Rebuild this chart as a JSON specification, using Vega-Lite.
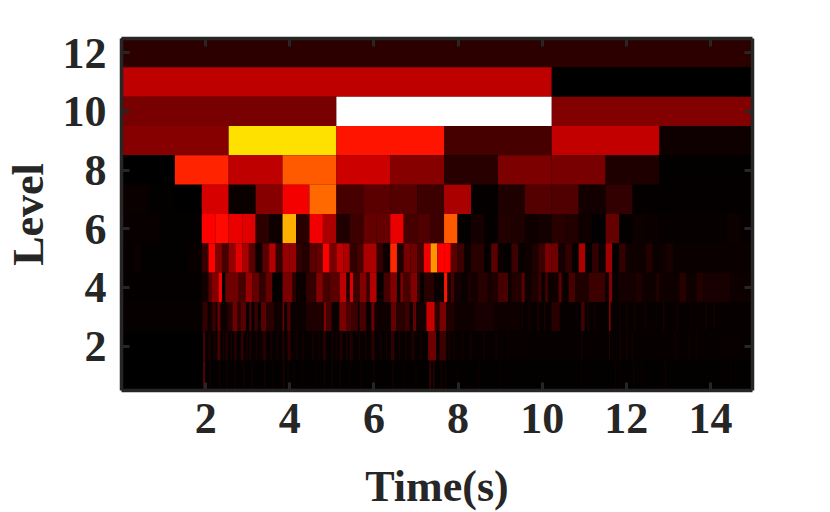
{"$schema":"https://vega.github.io/schema/vega-lite/v6.json","width":631,"height":352,"autosize":{"type":"none"},"padding":{"left":121,"top":38,"right":78,"bottom":122},"background":"white","config":{"view":{"fill":"#000000","stroke":null},"axis":{"grid":false,"labelFont":"Liberation Serif","labelFontWeight":"bold","labelFontSize":44,"labelColor":"#262626","titleFont":"Liberation Serif","titleFontWeight":"bold","titleFontSize":44,"titleColor":"#262626","tickColor":"#262626","tickWidth":3,"tickSize":-8,"domainColor":"#262626","domainWidth":3.5}},"data":{"values":[
{"level":12,"t0":0,"t1":15,"v":45},
{"level":11,"t0":0,"t1":10.24,"v":190},{"level":11,"t0":10.24,"t1":15,"v":0},
{"level":10,"t0":0,"t1":5.12,"v":120},{"level":10,"t0":5.12,"t1":10.24,"v":765},{"level":10,"t0":10.24,"t1":15,"v":130},
{"level":9,"t0":0,"t1":2.56,"v":135},{"level":9,"t0":2.56,"t1":5.12,"v":480},{"level":9,"t0":5.12,"t1":7.68,"v":275},{"level":9,"t0":7.68,"t1":10.24,"v":70},{"level":9,"t0":10.24,"t1":12.8,"v":195},{"level":9,"t0":12.8,"t1":15,"v":15},
{"level":8,"t0":0,"t1":1.28,"v":0},{"level":8,"t0":1.28,"t1":2.56,"v":290},{"level":8,"t0":2.56,"t1":3.84,"v":190},{"level":8,"t0":3.84,"t1":5.12,"v":345},{"level":8,"t0":5.12,"t1":6.4,"v":205},{"level":8,"t0":6.4,"t1":7.68,"v":135},{"level":8,"t0":7.68,"t1":8.96,"v":40},{"level":8,"t0":8.96,"t1":10.24,"v":125},{"level":8,"t0":10.24,"t1":11.52,"v":120},{"level":8,"t0":11.52,"t1":12.8,"v":30},{"level":8,"t0":12.8,"t1":15,"v":3},
{"level":7,"t0":0,"t1":0.64,"v":10},{"level":7,"t0":0.64,"t1":1.28,"v":3},{"level":7,"t0":1.28,"t1":1.92,"v":1},{"level":7,"t0":1.92,"t1":2.56,"v":215},{"level":7,"t0":2.56,"t1":3.2,"v":10},{"level":7,"t0":3.2,"t1":3.84,"v":135},{"level":7,"t0":3.84,"t1":4.48,"v":245},{"level":7,"t0":4.48,"t1":5.12,"v":360},{"level":7,"t0":5.12,"t1":5.76,"v":70},{"level":7,"t0":5.76,"t1":6.4,"v":90},{"level":7,"t0":6.4,"t1":7.04,"v":85},{"level":7,"t0":7.04,"t1":7.68,"v":60},{"level":7,"t0":7.68,"t1":8.32,"v":170},{"level":7,"t0":8.32,"t1":8.96,"v":5},{"level":7,"t0":8.96,"t1":9.6,"v":30},{"level":7,"t0":9.6,"t1":10.24,"v":85},{"level":7,"t0":10.24,"t1":10.88,"v":80},{"level":7,"t0":10.88,"t1":11.52,"v":18},{"level":7,"t0":11.52,"t1":12.16,"v":50},{"level":7,"t0":12.16,"t1":15,"v":4},
{"level":6,"t0":0,"t1":0.96,"v":8},{"level":6,"t0":0.96,"t1":1.92,"v":3},{"level":6,"t0":1.92,"t1":2.24,"v":255},{"level":6,"t0":2.24,"t1":2.56,"v":265},{"level":6,"t0":2.56,"t1":2.88,"v":235},{"level":6,"t0":2.88,"t1":3.2,"v":225},{"level":6,"t0":3.2,"t1":3.52,"v":45},{"level":6,"t0":3.52,"t1":3.84,"v":15},{"level":6,"t0":3.84,"t1":4.16,"v":430},{"level":6,"t0":4.16,"t1":4.48,"v":40},{"level":6,"t0":4.48,"t1":4.8,"v":240},{"level":6,"t0":4.8,"t1":5.12,"v":170},{"level":6,"t0":5.12,"t1":5.44,"v":30},{"level":6,"t0":5.44,"t1":5.76,"v":60},{"level":6,"t0":5.76,"t1":6.08,"v":100},{"level":6,"t0":6.08,"t1":6.4,"v":100},{"level":6,"t0":6.4,"t1":6.72,"v":235},{"level":6,"t0":6.72,"t1":7.04,"v":70},{"level":6,"t0":7.04,"t1":7.36,"v":80},{"level":6,"t0":7.36,"t1":7.68,"v":60},{"level":6,"t0":7.68,"t1":8.0,"v":345},{"level":6,"t0":8.0,"t1":8.32,"v":5},{"level":6,"t0":8.32,"t1":8.64,"v":20},{"level":6,"t0":8.64,"t1":8.96,"v":5},{"level":6,"t0":8.96,"t1":9.28,"v":35},{"level":6,"t0":9.28,"t1":9.6,"v":30},{"level":6,"t0":9.6,"t1":9.92,"v":15},{"level":6,"t0":9.92,"t1":10.24,"v":20},{"level":6,"t0":10.24,"t1":10.56,"v":40},{"level":6,"t0":10.56,"t1":10.88,"v":35},{"level":6,"t0":10.88,"t1":11.2,"v":15},{"level":6,"t0":11.2,"t1":11.52,"v":2},{"level":6,"t0":11.52,"t1":11.84,"v":100},{"level":6,"t0":11.84,"t1":12.16,"v":5},{"level":6,"t0":12.16,"t1":12.48,"v":12},{"level":6,"t0":12.48,"t1":12.8,"v":10},{"level":6,"t0":12.8,"t1":14.4,"v":6},{"level":6,"t0":14.4,"t1":14.72,"v":12},{"level":6,"t0":14.72,"t1":15,"v":6},
{"level":5,"t0":0,"t1":0.32,"v":6},{"level":5,"t0":0.32,"t1":0.48,"v":12},{"level":5,"t0":0.48,"t1":1.6,"v":3},{"level":5,"t0":1.6,"t1":1.92,"v":8},
{"level":5,"t0":1.92,"t1":2.08,"v":55},{"level":5,"t0":2.08,"t1":2.24,"v":255},{"level":5,"t0":2.24,"t1":2.4,"v":130},{"level":5,"t0":2.4,"t1":2.56,"v":70},{"level":5,"t0":2.56,"t1":2.72,"v":150},{"level":5,"t0":2.72,"t1":2.88,"v":225},{"level":5,"t0":2.88,"t1":3.04,"v":170},{"level":5,"t0":3.04,"t1":3.2,"v":90},{"level":5,"t0":3.2,"t1":3.36,"v":15},{"level":5,"t0":3.36,"t1":3.52,"v":90},{"level":5,"t0":3.52,"t1":3.68,"v":180},{"level":5,"t0":3.68,"t1":3.84,"v":50},{"level":5,"t0":3.84,"t1":4.0,"v":150},{"level":5,"t0":4.0,"t1":4.16,"v":150},{"level":5,"t0":4.16,"t1":4.32,"v":50},{"level":5,"t0":4.32,"t1":4.48,"v":35},{"level":5,"t0":4.48,"t1":4.64,"v":90},{"level":5,"t0":4.64,"t1":4.8,"v":100},{"level":5,"t0":4.8,"t1":4.96,"v":255},{"level":5,"t0":4.96,"t1":5.12,"v":120},{"level":5,"t0":5.12,"t1":5.28,"v":190},{"level":5,"t0":5.28,"t1":5.44,"v":170},{"level":5,"t0":5.44,"t1":5.6,"v":50},{"level":5,"t0":5.6,"t1":5.76,"v":70},{"level":5,"t0":5.76,"t1":5.92,"v":170},{"level":5,"t0":5.92,"t1":6.08,"v":170},{"level":5,"t0":6.08,"t1":6.24,"v":50},{"level":5,"t0":6.24,"t1":6.4,"v":15},{"level":5,"t0":6.4,"t1":6.56,"v":295},{"level":5,"t0":6.56,"t1":6.72,"v":30},{"level":5,"t0":6.72,"t1":6.88,"v":120},{"level":5,"t0":6.88,"t1":7.04,"v":110},{"level":5,"t0":7.04,"t1":7.2,"v":70},{"level":5,"t0":7.2,"t1":7.36,"v":240},{"level":5,"t0":7.36,"t1":7.52,"v":405},{"level":5,"t0":7.52,"t1":7.68,"v":255},{"level":5,"t0":7.68,"t1":7.84,"v":255},{"level":5,"t0":7.84,"t1":8.0,"v":90},{"level":5,"t0":8.0,"t1":8.16,"v":60},{"level":5,"t0":8.16,"t1":8.32,"v":15},{"level":5,"t0":8.32,"t1":8.64,"v":40},{"level":5,"t0":8.64,"t1":8.8,"v":5},{"level":5,"t0":8.8,"t1":8.96,"v":90},{"level":5,"t0":8.96,"t1":9.12,"v":10},{"level":5,"t0":9.12,"t1":9.28,"v":5},{"level":5,"t0":9.28,"t1":9.44,"v":60},{"level":5,"t0":9.44,"t1":9.6,"v":10},{"level":5,"t0":9.6,"t1":9.76,"v":15},{"level":5,"t0":9.76,"t1":9.92,"v":30},{"level":5,"t0":9.92,"t1":10.08,"v":60},{"level":5,"t0":10.08,"t1":10.24,"v":120},{"level":5,"t0":10.24,"t1":10.4,"v":110},{"level":5,"t0":10.4,"t1":10.56,"v":20},{"level":5,"t0":10.56,"t1":10.72,"v":50},{"level":5,"t0":10.72,"t1":10.88,"v":5},{"level":5,"t0":10.88,"t1":11.04,"v":170},{"level":5,"t0":11.04,"t1":11.2,"v":5},{"level":5,"t0":11.2,"t1":11.36,"v":50},{"level":5,"t0":11.36,"t1":11.52,"v":10},{"level":5,"t0":11.52,"t1":11.68,"v":160},{"level":5,"t0":11.68,"t1":11.84,"v":5},{"level":5,"t0":11.84,"t1":12.0,"v":50},{"level":5,"t0":12.0,"t1":12.48,"v":15},{"level":5,"t0":12.48,"t1":12.64,"v":35},{"level":5,"t0":12.64,"t1":12.8,"v":10},{"level":5,"t0":12.8,"t1":12.96,"v":15},{"level":5,"t0":12.96,"t1":13.12,"v":25},{"level":5,"t0":13.12,"t1":15,"v":10},
{"level":4,"t0":0,"t1":1.92,"v":5},{"level":4,"t0":1.92,"t1":2.08,"v":20},{"level":4,"t0":2.08,"t1":2.16,"v":90},{"level":4,"t0":2.16,"t1":2.32,"v":130},{"level":4,"t0":2.32,"t1":2.4,"v":255},{"level":4,"t0":2.4,"t1":2.48,"v":5},{"level":4,"t0":2.48,"t1":2.8,"v":110},{"level":4,"t0":2.8,"t1":2.96,"v":70},{"level":4,"t0":2.96,"t1":3.12,"v":150},{"level":4,"t0":3.12,"t1":3.28,"v":100},{"level":4,"t0":3.28,"t1":3.44,"v":50},{"level":4,"t0":3.44,"t1":3.6,"v":100},{"level":4,"t0":3.6,"t1":3.84,"v":5},{"level":4,"t0":3.84,"t1":4.08,"v":120},{"level":4,"t0":4.08,"t1":4.16,"v":40},{"level":4,"t0":4.16,"t1":4.4,"v":10},{"level":4,"t0":4.4,"t1":4.64,"v":50},{"level":4,"t0":4.64,"t1":4.8,"v":130},{"level":4,"t0":4.8,"t1":4.96,"v":70},{"level":4,"t0":4.96,"t1":5.2,"v":90},{"level":4,"t0":5.2,"t1":5.36,"v":190},{"level":4,"t0":5.36,"t1":5.44,"v":30},{"level":4,"t0":5.44,"t1":5.52,"v":220},{"level":4,"t0":5.52,"t1":5.68,"v":60},{"level":4,"t0":5.68,"t1":5.84,"v":130},{"level":4,"t0":5.84,"t1":5.92,"v":60},{"level":4,"t0":5.92,"t1":6.08,"v":180},{"level":4,"t0":6.08,"t1":6.24,"v":5},{"level":4,"t0":6.24,"t1":6.4,"v":70},{"level":4,"t0":6.4,"t1":6.56,"v":130},{"level":4,"t0":6.56,"t1":6.64,"v":10},{"level":4,"t0":6.64,"t1":6.72,"v":120},{"level":4,"t0":6.72,"t1":6.88,"v":70},{"level":4,"t0":6.88,"t1":7.04,"v":130},{"level":4,"t0":7.04,"t1":7.12,"v":50},{"level":4,"t0":7.12,"t1":7.2,"v":5},{"level":4,"t0":7.2,"t1":7.44,"v":40},{"level":4,"t0":7.44,"t1":7.68,"v":10},{"level":4,"t0":7.68,"t1":7.76,"v":275},{"level":4,"t0":7.76,"t1":7.84,"v":20},{"level":4,"t0":7.84,"t1":7.92,"v":70},{"level":4,"t0":7.92,"t1":8.08,"v":20},{"level":4,"t0":8.08,"t1":8.24,"v":10},{"level":4,"t0":8.24,"t1":8.32,"v":30},{"level":4,"t0":8.32,"t1":8.48,"v":20},{"level":4,"t0":8.48,"t1":8.72,"v":40},{"level":4,"t0":8.72,"t1":8.8,"v":20},{"level":4,"t0":8.8,"t1":8.96,"v":30},{"level":4,"t0":8.96,"t1":9.2,"v":70},{"level":4,"t0":9.2,"t1":9.28,"v":15},{"level":4,"t0":9.28,"t1":9.52,"v":35},{"level":4,"t0":9.52,"t1":9.6,"v":90},{"level":4,"t0":9.6,"t1":9.76,"v":15},{"level":4,"t0":9.76,"t1":9.92,"v":30},{"level":4,"t0":9.92,"t1":10.0,"v":60},{"level":4,"t0":10.0,"t1":10.08,"v":10},{"level":4,"t0":10.08,"t1":10.16,"v":60},{"level":4,"t0":10.16,"t1":10.4,"v":15},{"level":4,"t0":10.4,"t1":10.48,"v":90},{"level":4,"t0":10.48,"t1":10.64,"v":10},{"level":4,"t0":10.64,"t1":10.8,"v":70},{"level":4,"t0":10.8,"t1":11.12,"v":30},{"level":4,"t0":11.12,"t1":11.52,"v":60},{"level":4,"t0":11.52,"t1":11.6,"v":10},{"level":4,"t0":11.6,"t1":11.68,"v":130},{"level":4,"t0":11.68,"t1":11.84,"v":10},{"level":4,"t0":11.84,"t1":12.24,"v":20},{"level":4,"t0":12.24,"t1":12.4,"v":30},{"level":4,"t0":12.4,"t1":12.72,"v":15},{"level":4,"t0":12.72,"t1":12.8,"v":35},{"level":4,"t0":12.8,"t1":13.28,"v":15},{"level":4,"t0":13.28,"t1":13.44,"v":40},{"level":4,"t0":13.44,"t1":13.68,"v":15},{"level":4,"t0":13.68,"t1":13.84,"v":35},{"level":4,"t0":13.84,"t1":14.48,"v":25},{"level":4,"t0":14.48,"t1":15,"v":12},
{"level":3,"t0":0,"t1":15,"v":6},{"level":3,"t0":1.94,"t1":2.06,"v":50},{"level":3,"t0":2.1,"t1":2.17,"v":20},{"level":3,"t0":2.17,"t1":2.25,"v":60},{"level":3,"t0":2.29,"t1":2.37,"v":100},{"level":3,"t0":2.37,"t1":2.53,"v":15},{"level":3,"t0":2.53,"t1":2.65,"v":40},{"level":3,"t0":2.65,"t1":2.77,"v":110},{"level":3,"t0":2.77,"t1":2.85,"v":50},{"level":3,"t0":2.85,"t1":2.97,"v":90},{"level":3,"t0":3.05,"t1":3.1,"v":80},{"level":3,"t0":3.17,"t1":3.25,"v":60},{"level":3,"t0":3.33,"t1":3.45,"v":90},{"level":3,"t0":3.45,"t1":3.64,"v":40},{"level":3,"t0":3.64,"t1":3.84,"v":15},{"level":3,"t0":3.84,"t1":3.88,"v":100},{"level":3,"t0":3.95,"t1":4.03,"v":80},{"level":3,"t0":4.04,"t1":4.4,"v":10},{"level":3,"t0":4.4,"t1":4.8,"v":30},{"level":3,"t0":4.82,"t1":4.88,"v":130},{"level":3,"t0":4.88,"t1":5.01,"v":70},{"level":3,"t0":5.01,"t1":5.15,"v":10},{"level":3,"t0":5.19,"t1":5.35,"v":120},{"level":3,"t0":5.35,"t1":5.47,"v":80},{"level":3,"t0":5.47,"t1":5.63,"v":60},{"level":3,"t0":5.67,"t1":5.83,"v":70},{"level":3,"t0":5.95,"t1":6.03,"v":110},{"level":3,"t0":6.03,"t1":6.42,"v":15},{"level":3,"t0":6.42,"t1":6.54,"v":100},{"level":3,"t0":6.54,"t1":6.74,"v":40},{"level":3,"t0":6.74,"t1":6.86,"v":60},{"level":3,"t0":6.94,"t1":7.02,"v":100},{"level":3,"t0":7.02,"t1":7.26,"v":20},{"level":3,"t0":7.26,"t1":7.46,"v":200},{"level":3,"t0":7.46,"t1":7.57,"v":40},{"level":3,"t0":7.57,"t1":7.73,"v":120},{"level":3,"t0":7.73,"t1":7.93,"v":30},{"level":3,"t0":7.93,"t1":8.41,"v":15},{"level":3,"t0":8.41,"t1":8.88,"v":25},{"level":3,"t0":8.88,"t1":9.5,"v":15},{"level":3,"t0":9.52,"t1":9.56,"v":20},{"level":3,"t0":9.69,"t1":9.73,"v":25},{"level":3,"t0":9.89,"t1":9.93,"v":30},{"level":3,"t0":10.05,"t1":10.09,"v":30},{"level":3,"t0":10.23,"t1":10.43,"v":40},{"level":3,"t0":10.94,"t1":11.02,"v":70},{"level":3,"t0":11.08,"t1":11.12,"v":25},{"level":3,"t0":11.24,"t1":11.28,"v":25},{"level":3,"t0":11.6,"t1":11.64,"v":130},{"level":3,"t0":11.84,"t1":11.88,"v":20},{"level":3,"t0":12.0,"t1":12.04,"v":20},{"level":3,"t0":12.2,"t1":12.24,"v":20},{"level":3,"t0":12.44,"t1":12.48,"v":20},{"level":3,"t0":12.88,"t1":12.92,"v":25},{"level":3,"t0":13.2,"t1":13.24,"v":20},{"level":3,"t0":13.52,"t1":13.56,"v":15},{"level":3,"t0":13.88,"t1":13.92,"v":20},{"level":3,"t0":14.08,"t1":14.12,"v":20},
{"level":2,"t0":1.92,"t1":15,"v":6},{"level":2,"t0":1.96,"t1":1.99,"v":110},{"level":2,"t0":2.06,"t1":2.14,"v":20},{"level":2,"t0":2.2,"t1":2.24,"v":25},{"level":2,"t0":2.29,"t1":2.36,"v":70},{"level":2,"t0":2.42,"t1":2.46,"v":25},{"level":2,"t0":2.49,"t1":2.53,"v":40},{"level":2,"t0":2.6,"t1":2.64,"v":25},{"level":2,"t0":2.69,"t1":2.75,"v":40},{"level":2,"t0":2.85,"t1":2.91,"v":50},{"level":2,"t0":2.98,"t1":3.02,"v":25},{"level":2,"t0":3.05,"t1":3.09,"v":30},{"level":2,"t0":3.2,"t1":3.24,"v":25},{"level":2,"t0":3.3,"t1":3.34,"v":20},{"level":2,"t0":3.37,"t1":3.45,"v":40},{"level":2,"t0":3.55,"t1":3.59,"v":25},{"level":2,"t0":3.7,"t1":3.74,"v":20},{"level":2,"t0":3.84,"t1":3.88,"v":40},{"level":2,"t0":3.96,"t1":4.03,"v":50},{"level":2,"t0":4.15,"t1":4.19,"v":20},{"level":2,"t0":4.3,"t1":4.34,"v":20},{"level":2,"t0":4.55,"t1":4.59,"v":25},{"level":2,"t0":4.7,"t1":4.74,"v":20},{"level":2,"t0":4.8,"t1":4.87,"v":40},{"level":2,"t0":5.0,"t1":5.04,"v":25},{"level":2,"t0":5.1,"t1":5.14,"v":20},{"level":2,"t0":5.19,"t1":5.27,"v":30},{"level":2,"t0":5.35,"t1":5.39,"v":25},{"level":2,"t0":5.43,"t1":5.51,"v":30},{"level":2,"t0":5.65,"t1":5.69,"v":25},{"level":2,"t0":5.8,"t1":5.84,"v":25},{"level":2,"t0":5.95,"t1":6.03,"v":40},{"level":2,"t0":6.15,"t1":6.19,"v":20},{"level":2,"t0":6.3,"t1":6.34,"v":20},{"level":2,"t0":6.42,"t1":6.5,"v":50},{"level":2,"t0":6.6,"t1":6.64,"v":25},{"level":2,"t0":6.75,"t1":6.79,"v":25},{"level":2,"t0":6.9,"t1":6.98,"v":30},{"level":2,"t0":7.1,"t1":7.14,"v":20},{"level":2,"t0":7.3,"t1":7.49,"v":110},{"level":2,"t0":7.57,"t1":7.73,"v":60},{"level":2,"t0":7.78,"t1":7.82,"v":25},{"level":2,"t0":7.9,"t1":7.94,"v":20},{"level":2,"t0":8.1,"t1":8.14,"v":20},{"level":2,"t0":8.3,"t1":8.34,"v":20},{"level":2,"t0":8.6,"t1":8.64,"v":20},{"level":2,"t0":8.9,"t1":8.94,"v":20},{"level":2,"t0":9.2,"t1":9.24,"v":15},{"level":2,"t0":9.5,"t1":9.54,"v":15},{"level":2,"t0":10.94,"t1":10.96,"v":30},{"level":2,"t0":11.6,"t1":11.62,"v":40},{"level":2,"t0":11.86,"t1":11.88,"v":30},{"level":2,"t0":12.02,"t1":12.04,"v":40},{"level":2,"t0":12.14,"t1":12.16,"v":30},{"level":2,"t0":13.17,"t1":13.19,"v":25},{"level":2,"t0":13.49,"t1":13.51,"v":25},{"level":2,"t0":13.68,"t1":13.7,"v":25},{"level":2,"t0":14.36,"t1":14.38,"v":15},
{"level":1,"t0":1.92,"t1":15,"v":3},{"level":1,"t0":1.96,"t1":1.99,"v":130},{"level":1,"t0":2.1,"t1":2.13,"v":20},{"level":1,"t0":2.33,"t1":2.35,"v":30},{"level":1,"t0":2.5,"t1":2.53,"v":20},{"level":1,"t0":2.7,"t1":2.73,"v":20},{"level":1,"t0":2.9,"t1":2.93,"v":20},{"level":1,"t0":3.1,"t1":3.13,"v":20},{"level":1,"t0":3.4,"t1":3.43,"v":20},{"level":1,"t0":3.6,"t1":3.63,"v":15},{"level":1,"t0":3.86,"t1":3.88,"v":50},{"level":1,"t0":3.96,"t1":3.98,"v":30},{"level":1,"t0":4.1,"t1":4.13,"v":15},{"level":1,"t0":4.3,"t1":4.33,"v":15},{"level":1,"t0":4.6,"t1":4.63,"v":15},{"level":1,"t0":4.83,"t1":4.85,"v":25},{"level":1,"t0":5.0,"t1":5.03,"v":20},{"level":1,"t0":5.2,"t1":5.23,"v":20},{"level":1,"t0":5.43,"t1":5.45,"v":20},{"level":1,"t0":5.7,"t1":5.73,"v":20},{"level":1,"t0":6.0,"t1":6.03,"v":20},{"level":1,"t0":6.45,"t1":6.48,"v":25},{"level":1,"t0":6.7,"t1":6.73,"v":15},{"level":1,"t0":7.0,"t1":7.03,"v":15},{"level":1,"t0":7.33,"t1":7.37,"v":60},{"level":1,"t0":7.42,"t1":7.45,"v":50},{"level":1,"t0":7.6,"t1":7.63,"v":25},{"level":1,"t0":7.7,"t1":7.73,"v":20},{"level":1,"t0":8.0,"t1":8.03,"v":15},{"level":1,"t0":8.5,"t1":8.53,"v":15},{"level":1,"t0":9.0,"t1":9.03,"v":15},{"level":1,"t0":10.94,"t1":10.96,"v":20},{"level":1,"t0":11.74,"t1":11.76,"v":20},{"level":1,"t0":11.86,"t1":11.88,"v":25},{"level":1,"t0":12.18,"t1":12.2,"v":25},{"level":1,"t0":12.37,"t1":12.39,"v":20},{"level":1,"t0":12.93,"t1":12.95,"v":25},{"level":1,"t0":14.48,"t1":14.5,"v":15}
]},
"layer":[
{"mark":{"type":"rect","stroke":null},"encoding":{
"x":{"field":"t0","type":"quantitative","scale":{"domain":[0,15],"nice":false,"zero":false},"axis":{"orient":"bottom","zindex":1,"values":[2,4,6,8,10,12,14],"title":"Time(s)","labelPadding":15,"titlePadding":24}},
"x2":{"field":"t1"},
"y":{"field":"level","type":"ordinal","scale":{"domain":[12,11,10,9,8,7,6,5,4,3,2,1],"paddingInner":0,"paddingOuter":0},"axis":{"orient":"left","zindex":1,"values":[2,4,6,8,10,12],"title":"Level","labelPadding":23,"labelOffset":2,"labelAngle":0,"titleX":-70,"titleY":176}},
"color":{"field":"v","type":"quantitative","legend":null,"scale":{"domain":[0,255,510,765],"range":["#000000","#ff0000","#ffff00","#ffffff"],"interpolate":"rgb"}}}},
{"transform":[{"filter":{"field":"level","equal":12}}],"mark":{"type":"rect","opacity":0},"encoding":{
"x":{"field":"t0","type":"quantitative","scale":{"domain":[0,15],"nice":false,"zero":false},"axis":{"orient":"top","zindex":1,"values":[2,4,6,8,10,12,14],"labels":false,"title":null}},
"x2":{"field":"t1"},
"y":{"field":"level","type":"ordinal","scale":{"domain":[12,11,10,9,8,7,6,5,4,3,2,1],"paddingInner":0,"paddingOuter":0},"axis":{"orient":"right","zindex":1,"values":[2,4,6,8,10,12],"labels":false,"title":null}}}}
],
"resolve":{"axis":{"x":"independent","y":"independent"}}}
